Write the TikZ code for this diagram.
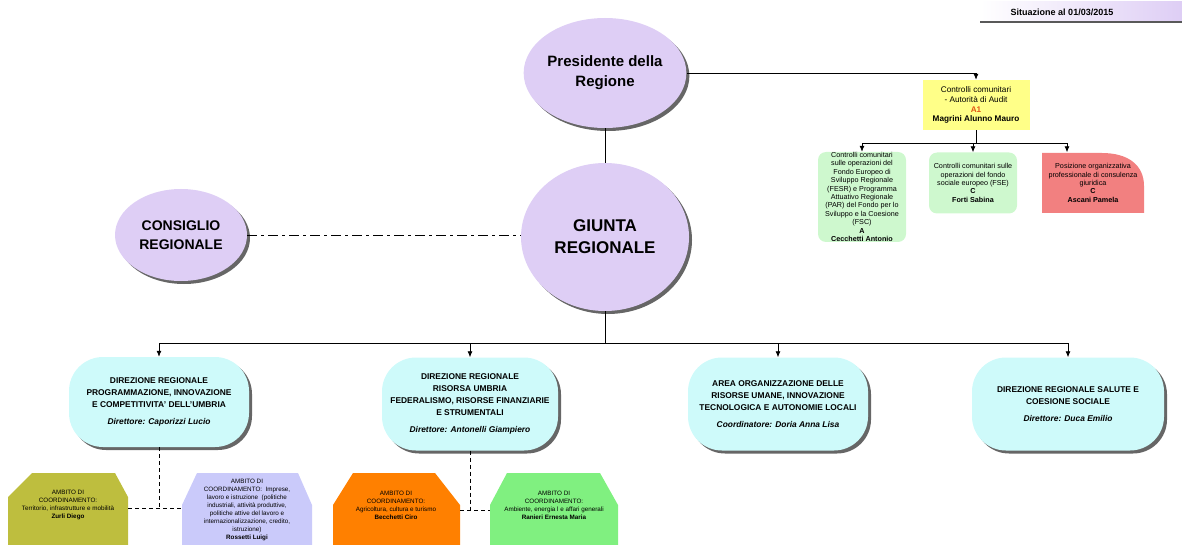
\documentclass[tikz,border=0pt]{standalone}
\usepackage{fontspec}
\setmainfont{Liberation Sans}
\usetikzlibrary{shapes.geometric,shadows,arrows.meta}
\definecolor{lilla}{RGB}{222,206,245}
\definecolor{celeste}{RGB}{206,250,250}
\definecolor{giallo}{RGB}{255,255,136}
\definecolor{verdino}{RGB}{206,248,206}
\definecolor{rosa}{RGB}{242,128,128}
\definecolor{rossoA}{RGB}{226,84,20}
\definecolor{oliva}{RGB}{190,190,62}
\definecolor{pervinca}{RGB}{202,202,250}
\definecolor{arancio}{RGB}{255,128,0}
\definecolor{verde}{RGB}{128,240,128}
\tikzset{
  ombra/.style={drop shadow={shadow xshift=3pt,shadow yshift=-3pt,fill=black!75,opacity=.8}},
  ovale/.style={ellipse, fill=lilla, ombra, font=\bfseries, align=center, inner sep=0pt},
  direzione/.style={rectangle, rounded corners=34pt, fill=celeste, ombra, align=center,
    font=\fontsize{8.4}{12}\selectfont\bfseries, inner sep=0pt},
  audit/.style={rectangle, align=center, inner sep=0pt, font=\fontsize{7.2}{8.4}\selectfont},
  ambito/.style={align=center, inner sep=0pt, font=\fontsize{6.3}{7.9}\selectfont},
  linea/.style={line width=.8pt},
  tratteggio/.style={line width=.8pt, dash pattern=on 4pt off 3pt},
  trattopunto/.style={line width=.8pt, dash pattern=on 10pt off 4pt on 3pt off 4pt},
}
\begin{document}
\begin{tikzpicture}[x=1pt, y=-1pt, >={Latex[length=6pt,width=5pt]}]
\useasboundingbox (0,0) rectangle (1182,545);

\shade[left color=white, right color=lilla] (980,2) rectangle (1182,22);
\draw[line width=2pt, black!65] (980,22) -- (1182,22);
\node[font=\fontsize{9}{10}\selectfont\bfseries] (situaz) at (1062,12) {Situazione al 01/03/2015};

\node[ovale, minimum width=156pt, minimum height=110pt, font=\fontsize{15}{20}\selectfont\bfseries]
  (pres) at (605,73) {Presidente della\\ Regione};
\node[ovale, minimum width=168pt, minimum height=148pt, font=\fontsize{17}{22}\selectfont\bfseries]
  (giunta) at (605,237) {GIUNTA\\ REGIONALE};
\node[ovale, minimum width=132pt, minimum height=92pt, font=\fontsize{14}{19}\selectfont\bfseries]
  (cons) at (181,235) {CONSIGLIO\\ REGIONALE};

\node[audit, fill=giallo, minimum width=107pt, minimum height=50pt, font=\fontsize{8.2}{9.8}\selectfont]
  (autorita) at (976,105) {Controlli comunitari\\ - Autorità di Audit\\ \textcolor{rossoA}{\bfseries A1}\\ \textbf{Magrini Alunno Mauro}};
\node[audit, fill=verdino, rounded corners=8pt, minimum width=88pt, minimum height=90pt]
  (fesr) at (862,197) {Controlli comunitari\\ sulle operazioni del\\ Fondo Europeo di\\ Sviluppo Regionale\\ (FESR) e Programma\\ Attuativo Regionale\\ (PAR) del Fondo per lo\\ Sviluppo e la Coesione\\ (FSC)\\ \textbf{A}\\ \textbf{Cecchetti Antonio}};
\node[audit, fill=verdino, rounded corners=8pt, minimum width=88pt, minimum height=61pt]
  (fse) at (973,183) {Controlli comunitari sulle\\ operazioni del fondo\\ sociale europeo (FSE)\\ \textbf{C}\\ \textbf{Forti Sabina}};
\fill[rosa] (1042,213) -- (1042,153) -- (1102,153) .. controls (1128,153) and (1144,165) .. (1144,186) -- (1144,213) -- cycle;
\node[audit, minimum width=102pt, minimum height=61pt]
  (ascani) at (1093,183) {Posizione organizzativa\\ professionale di consulenza\\ giuridica\\ \textbf{C}\\ \textbf{Ascani Pamela}};

\node[direzione, minimum width=180pt, minimum height=90pt] (dir1) at (159,402)
  {DIREZIONE REGIONALE\\ PROGRAMMAZIONE, INNOVAZIONE\\ E COMPETITIVITA' DELL'UMBRIA\\[5pt] \textit{Direttore: Caporizzi Lucio}};
\node[direzione, minimum width=176pt, minimum height=93pt] (dir2) at (470,404)
  {DIREZIONE REGIONALE\\ RISORSA UMBRIA\\ FEDERALISMO, RISORSE FINANZIARIE\\ E STRUMENTALI\\[5pt] \textit{Direttore: Antonelli Giampiero}};
\node[direzione, minimum width=180pt, minimum height=93pt] (dir3) at (778,404)
  {AREA ORGANIZZAZIONE DELLE\\ RISORSE UMANE, INNOVAZIONE\\ TECNOLOGICA E AUTONOMIE LOCALI\\[5pt] \textit{Coordinatore: Doria Anna Lisa}};
\node[direzione, minimum width=192pt, minimum height=93pt] (dir4) at (1068,404)
  {DIREZIONE REGIONALE SALUTE E\\ COESIONE SOCIALE\\[5pt] \textit{Direttore: Duca Emilio}};

\fill[oliva] (8,545) -- (8,497) -- (32,473) -- (115,473) -- (128,497) -- (128,545) -- cycle;
\fill[pervinca] (182,545) -- (182,505) -- (197,473) -- (298,473) -- (312,505) -- (312,545) -- cycle;
\fill[arancio] (333,545) -- (333,505) -- (353,473) -- (435,473) -- (460,505) -- (460,545) -- cycle;
\fill[verde] (490,545) -- (490,505) -- (507,473) -- (600,473) -- (618,505) -- (618,545) -- cycle;
\node[ambito] (zurli) at (68,505) {AMBITO DI\\ COORDINAMENTO:\\ Territorio, infrastrutture e mobilità\\ \textbf{Zurli Diego}};
\node[ambito] (rossetti) at (247,510) {AMBITO DI\\ COORDINAMENTO:\ \ Imprese,\\ lavoro e istruzione\ \ (politiche\\ industriali, attività produttive,\\ politiche attive del lavoro e\\ internazionalizzazione, credito,\\ istruzione)\\ \textbf{Rossetti Luigi}};
\node[ambito] (becchetti) at (396,505) {AMBITO DI\\ COORDINAMENTO:\\ Agricoltura, cultura e turismo\\ \textbf{Becchetti Ciro}};
\node[ambito] (ranieri) at (554,505) {AMBITO DI\\ COORDINAMENTO:\\ Ambiente, energia l e affari generali\\ \textbf{Ranieri Ernesta Maria}};
\coordinate (zurli-e) at (128,508);
\coordinate (rossetti-w) at (182,508);
\coordinate (becchetti-e) at (460,510);
\coordinate (ranieri-w) at (490,510);

\draw[linea, ->] (pres.east) -| (autorita.north);
\draw[linea] (pres.south) -- (giunta.north);
\draw[trattopunto] (cons.east) -- (cons.east -| giunta.west);

\coordinate (snodo) at (976,143);
\draw[linea] (autorita.south) -- (snodo);
\draw[linea, ->] (snodo) -| (fesr.north);
\draw[linea, ->] (snodo) -| (fse.north);
\draw[linea, ->] (snodo) -| ([xshift=-26pt]ascani.north);

\coordinate (gnodo) at (605,343);
\draw[linea] (giunta.south) -- (gnodo);
\draw[linea, ->] (gnodo) -| (dir1.north);
\draw[linea, ->] (gnodo) -| (dir2.north);
\draw[linea, ->] (gnodo) -| (dir3.north);
\draw[linea, ->] (gnodo) -| (dir4.north);

\draw[tratteggio] (dir1.south) -- (dir1.south |- zurli-e);
\draw[tratteggio] (zurli-e) -- (rossetti-w);
\draw[tratteggio] (dir2.south) -- (dir2.south |- becchetti-e);
\draw[tratteggio] (becchetti-e) -- (ranieri-w);
\end{tikzpicture}
\end{document}
